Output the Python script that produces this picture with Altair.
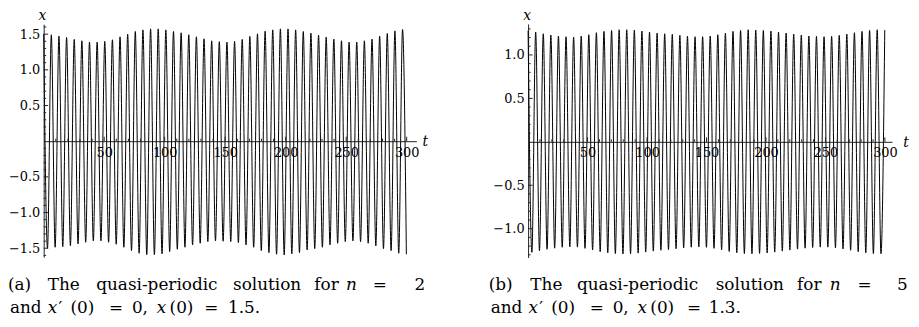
import altair as alt
import pandas as pd

# ---------------- values ----------------
# (a) n = 2, x(0) = 1.5 : period of the oscillation, peak and trough values
period_a = 6.31
peaks_a = [1.500, 1.491, 1.472, 1.454, 1.426, 1.407, 1.389, 1.389, 1.398, 1.421,
           1.463, 1.500, 1.537, 1.560, 1.574, 1.574, 1.560, 1.537, 1.519, 1.491,
           1.463, 1.435, 1.407, 1.395, 1.389, 1.398, 1.426, 1.468, 1.505, 1.542,
           1.560, 1.574, 1.574, 1.560, 1.537, 1.514, 1.486, 1.458, 1.431, 1.407,
           1.389, 1.389, 1.407, 1.431, 1.472, 1.509, 1.546, 1.565]
troughs_a = [-1.500, -1.486, -1.477, -1.463, -1.439, -1.416, -1.397, -1.397, -1.416, -1.444,
             -1.486, -1.533, -1.570, -1.589, -1.589, -1.579, -1.547, -1.514, -1.486, -1.453,
             -1.430, -1.407, -1.397, -1.402, -1.407, -1.421, -1.453, -1.486, -1.533, -1.561,
             -1.584, -1.593, -1.579, -1.561, -1.523, -1.505, -1.486, -1.453, -1.430, -1.407,
             -1.397, -1.407, -1.430, -1.467, -1.505, -1.533, -1.570, -1.584]

# (b) n = 5, x(0) = 1.3
period_b = 6.38
peaks_b = [1.280, 1.263, 1.244, 1.229, 1.218, 1.210, 1.206, 1.218, 1.233, 1.256,
           1.271, 1.282, 1.290, 1.290, 1.286, 1.275, 1.263, 1.252, 1.244, 1.237,
           1.225, 1.216, 1.210, 1.210, 1.218, 1.233, 1.252, 1.271, 1.282, 1.290,
           1.286, 1.282, 1.275, 1.263, 1.252, 1.240, 1.229, 1.218, 1.214, 1.210,
           1.214, 1.225, 1.240, 1.256, 1.271, 1.282, 1.290, 1.286]
troughs_b = [-1.272, -1.254, -1.237, -1.224, -1.214, -1.208, -1.212, -1.226, -1.245, -1.264,
             -1.277, -1.286, -1.290, -1.288, -1.281, -1.269, -1.258, -1.248, -1.241, -1.231,
             -1.221, -1.213, -1.210, -1.214, -1.226, -1.243, -1.262, -1.277, -1.286, -1.288,
             -1.284, -1.279, -1.269, -1.258, -1.246, -1.235, -1.224, -1.216, -1.212, -1.212,
             -1.220, -1.233, -1.248, -1.264, -1.277, -1.286, -1.288]

# tick values
t_major = [50, 100, 150, 200, 250, 300]
t_minor = [10, 20, 30, 40, 60, 70, 80, 90, 110, 120, 130, 140, 160, 170, 180, 190,
           210, 220, 230, 240, 260, 270, 280, 290]
xa_major = [-1.5, -1.0, -0.5, 0.5, 1.0, 1.5]
xb_major = [-1.0, -0.5, 0.5, 1.0]
xa_minor = [v / 10 for v in range(-16, 17) if v % 5 != 0]
xb_minor = [v / 10 for v in range(-13, 14) if v % 5 != 0]

captions_a = ["(a) The quasi-periodic solution for n = 2", "and x′(0) = 0, x(0) = 1.5."]
captions_b = ["(b) The quasi-periodic solution for n = 5", "and x′(0) = 0, x(0) = 1.3."]

# ---------------- layout (pixels) ----------------
W, H = 911, 311
FONT = "DejaVu Serif"

def panel_geom(x0, x1, tdom, y_bottom, y_top, xdom):
    zero = y_top + (xdom[1] - 0) / (xdom[1] - xdom[0]) * (y_bottom - y_top)
    return dict(sx=alt.Scale(domain=tdom, range=[x0, x1], nice=False, zero=False),
                sy=alt.Scale(domain=xdom, range=[y_bottom, y_top], nice=False, zero=False),
                x0=x0, zero=zero)

GA = panel_geom(36, 412, [0, 308], 250, 15, [-1.625, 1.639])
GB = panel_geom(524.7, 891.9, [0, 306], 250.3, 14.7, [-1.331, 1.357])


def osc(period, peaks, troughs):
    rows = [{"t": i * period, "x": v} for i, v in enumerate(peaks)]
    rows += [{"t": (j + 0.5) * period, "x": v} for j, v in enumerate(troughs)]
    return pd.DataFrame(rows).sort_values("t").reset_index(drop=True)


def panel(G, period, peaks, troughs, ymajor, yminor):
    ax_t = alt.Axis(orient="bottom", offset=G["zero"] - H, values=t_major, format="d",
                    ticks=False, tickSize=0, grid=False, domain=True, domainColor="#222",
                    domainWidth=1, labelFont=FONT, labelFontSize=13, labelColor="black",
                    labelPadding=5, labelFlush=False, labelOverlap=False, title=None)
    ax_x = alt.Axis(orient="left", offset=-G["x0"], values=ymajor, format=".1f",
                    ticks=False, tickSize=0, grid=False, domain=True, domainColor="#222",
                    domainWidth=1, labelFont=FONT, labelFontSize=13, labelColor="black",
                    labelPadding=4, labelFlush=False, labelOverlap=False, title=None)
    line = alt.Chart(osc(period, peaks, troughs)).mark_line(
        interpolate="monotone", color="black", strokeWidth=1
    ).encode(x=alt.X("t:Q", scale=G["sx"], axis=ax_t),
             y=alt.Y("x:Q", scale=G["sy"], axis=ax_x))
    z = G["zero"]
    x0 = G["x0"]
    layers = [line]
    for vals, ln in ((t_major, 4.5), (t_minor, 2.5)):
        layers.append(alt.Chart(pd.DataFrame({"v": vals})).mark_rule(color="#222", strokeWidth=1)
                      .encode(x=alt.X("v:Q", scale=G["sx"], axis=None),
                              y=alt.value(z - ln), y2=alt.value(z)))
    for vals, ln in ((ymajor, 4.5), (yminor, 2.5)):
        layers.append(alt.Chart(pd.DataFrame({"v": vals})).mark_rule(color="#222", strokeWidth=1)
                      .encode(y=alt.Y("v:Q", scale=G["sy"], axis=None),
                              x=alt.value(x0), x2=alt.value(x0 + ln)))
    return layers


def text_layer(rows, italic, size):
    df = pd.DataFrame(rows, columns=["s", "px", "py"])
    kw = dict(font=FONT, fontSize=size, align="left", baseline="alphabetic", color="black")
    if italic:
        kw["fontStyle"] = "italic"
    return alt.Chart(df).mark_text(**kw).encode(
        x=alt.X("px:Q", scale=None, axis=None),
        y=alt.Y("py:Q", scale=None, axis=None),
        text="s:N")


def caption_rows(words1, xs1, it1, words2, xs2, it2, shift, y1, y2):
    normal, italic = [], []
    for words, xs, its, yy in ((words1, xs1, it1, y1), (words2, xs2, it2, y2)):
        for w, x, it in zip(words, xs, its):
            (italic if it else normal).append((w, x + shift, yy))
    return normal, italic

# caption pieces (split into words so the justified spacing can be reproduced)
a1 = captions_a[0].split(" ")            # (a) The quasi-periodic solution for n = 2
a1x = [5, 45, 94, 232, 314, 346, 373, 415]
a1i = [0, 0, 0, 0, 0, 1, 0, 0]
a2 = ["and", "x", "′", "(0)", "=", "0,", "x", "(0)", "=", "1.5."]
a2x = [7, 45, 56, 68, 107, 130, 155, 168, 203, 227]
a2i = [0, 1, 0, 0, 0, 0, 1, 0, 0, 0]
b1 = captions_b[0].split(" ")
b1x = [493, 535, 582, 722, 804, 837, 865, 905]
b1i = a1i
b2 = ["and", "x", "′", "(0)", "=", "0,", "x", "(0)", "=", "1.3."]
b2x = [495, 533, 544, 556, 595, 618, 643, 656, 693, 715]
b2i = a2i

Y1, Y2 = 283, 306.5
na, ia = caption_rows(a1, a1x, a1i, a2, a2x, a2i, -5, Y1, Y2)
nb, ib = caption_rows(b1, b1x, b1i, b2, b2x, b2i, -8, Y1, Y2)

axis_names = [("x", 34.7, 11), ("x", 523.7, 11),
              ("t", 421, GA["zero"] + 5), ("t", 906, GB["zero"] + 5)]

layers = []
layers += panel(GA, period_a, peaks_a, troughs_a, xa_major, xa_minor)
layers += panel(GB, period_b, peaks_b, troughs_b, xb_major, xb_minor)
layers.append(text_layer(na + nb, False, 17))
layers.append(text_layer(ia + ib, True, 17))
names_df = pd.DataFrame(axis_names, columns=["s", "px", "py"])
layers.append(alt.Chart(names_df).mark_text(font=FONT, fontSize=14, fontStyle="italic",
                                            align="center", baseline="alphabetic", color="black")
              .encode(x=alt.X("px:Q", scale=None, axis=None),
                      y=alt.Y("py:Q", scale=None, axis=None), text="s:N"))

chart = alt.layer(*layers).resolve_scale(x="independent", y="independent").properties(
    width=W, height=H, padding=0, autosize=alt.AutoSizeParams(type="none"),
    background="white"
).configure_view(stroke=None)

chart.save("out.html", embed_options={"renderer": "svg", "actions": False})
